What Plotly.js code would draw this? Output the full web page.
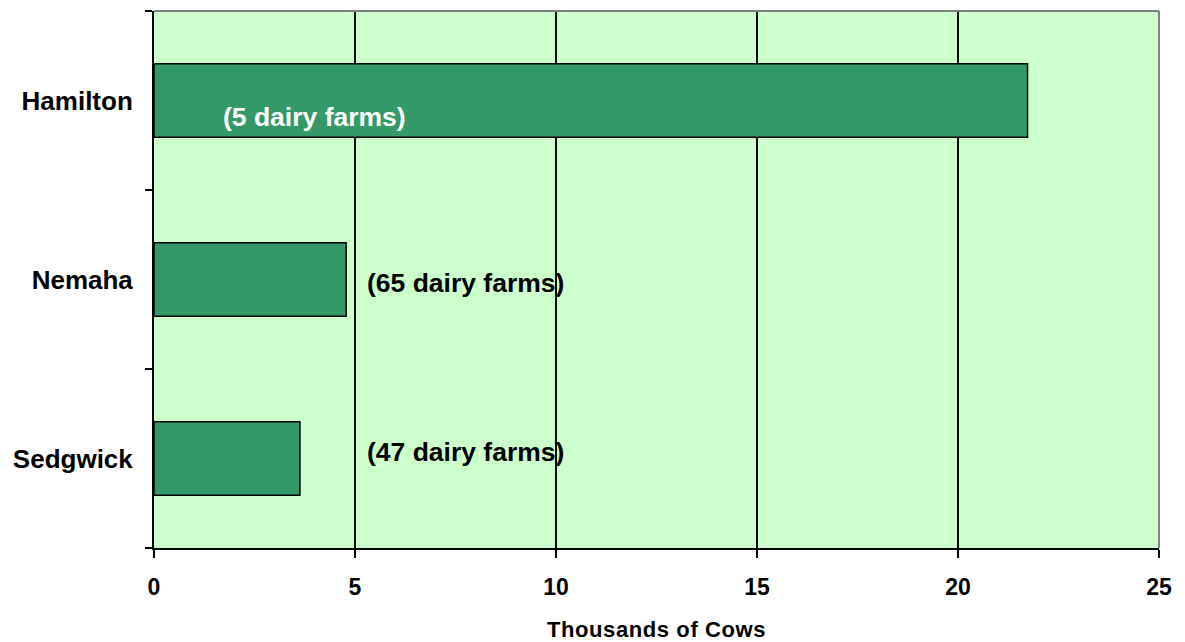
<!DOCTYPE html>
<html>
<head>
<meta charset="utf-8">
<script src="https://cdn.plot.ly/plotly-3.0.1.min.js"></script>
<style>html,body{margin:0;padding:0;background:#fff;}#chart{width:1185px;height:642px;}</style>
</head>
<body>
<div id="chart"></div>
<script>
const counties = ["Hamilton", "Nemaha", "Sedgwick"];
const cows = [21.73, 4.78, 3.63];
const farmLabels = ["(5 dairy farms)", "(65 dairy farms)", "(47 dairy farms)"];
const labelX = [4.0, 7.76, 7.76];
const labelShift = [-16, -3, 7];
const labelColors = ["#ffffff", "#000000", "#000000"];
const xTicks = [0, 5, 10, 15, 20, 25];

const font = "Liberation Sans, Arial, sans-serif";

const trace = {
  type: "bar",
  orientation: "h",
  y: counties,
  x: cows,
  width: 0.41,
  marker: {color: "#339966", line: {color: "#000000", width: 1.5}},
  hoverinfo: "x+y"
};

const annotations = counties.map((c, i) => ({
  x: labelX[i], y: c, xref: "x", yref: "y",
  text: "<b>" + farmLabels[i] + "</b>",
  showarrow: false, yshift: labelShift[i],
  font: {family: font, size: 26.5, color: labelColors[i]}
}));

const layout = {
  width: 1185, height: 642,
  margin: {l: 154, r: 26, t: 11, b: 94},
  paper_bgcolor: "#ffffff",
  plot_bgcolor: "#ccffcc",
  showlegend: false,
  xaxis: {
    range: [0, 25],
    tickvals: xTicks,
    ticktext: xTicks.map(v => "<b>" + v + "</b>"),
    ticks: "outside", ticklen: 8, tickcolor: "#000", tickwidth: 1.5,
    ticklabelstandoff: 9,
    showline: true, linecolor: "#000", linewidth: 2,
    showgrid: true, gridcolor: "#000", gridwidth: 1.5,
    zeroline: false,
    tickfont: {family: font, size: 23, color: "#000"},
    title: {text: "<b>Thousands of Cows</b>", font: {family: font, size: 22, color: "#000"}, standoff: 24}
  },
  yaxis: {
    type: "category",
    categoryorder: "array", categoryarray: counties,
    autorange: "reversed",
    tickson: "boundaries",
    ticks: "outside", ticklen: 7, tickcolor: "#000", tickwidth: 1.5,
    showline: true, linecolor: "#000", linewidth: 2,
    showgrid: false, zeroline: false,
    ticktext: counties.map(c => "<b>" + c + "</b>"),
    tickvals: counties,
    tickfont: {family: font, size: 26, color: "#000"},
    ticklabelstandoff: 14
  },
  shapes: [
    {type: "line", xref: "paper", yref: "paper", x0: 0, x1: 1, y0: 1, y1: 1, line: {color: "#808080", width: 2}},
    {type: "line", xref: "paper", yref: "paper", x0: 1, x1: 1, y0: 0, y1: 1, line: {color: "#808080", width: 2}}
  ],
  annotations: annotations
};

Plotly.newPlot("chart", [trace], layout, {displayModeBar: false, staticPlot: true}).then(() => {
  const t = document.querySelector(".xtitle");
  if (t) t.style.letterSpacing = "0.6px";
});
</script>
</body>
</html>
